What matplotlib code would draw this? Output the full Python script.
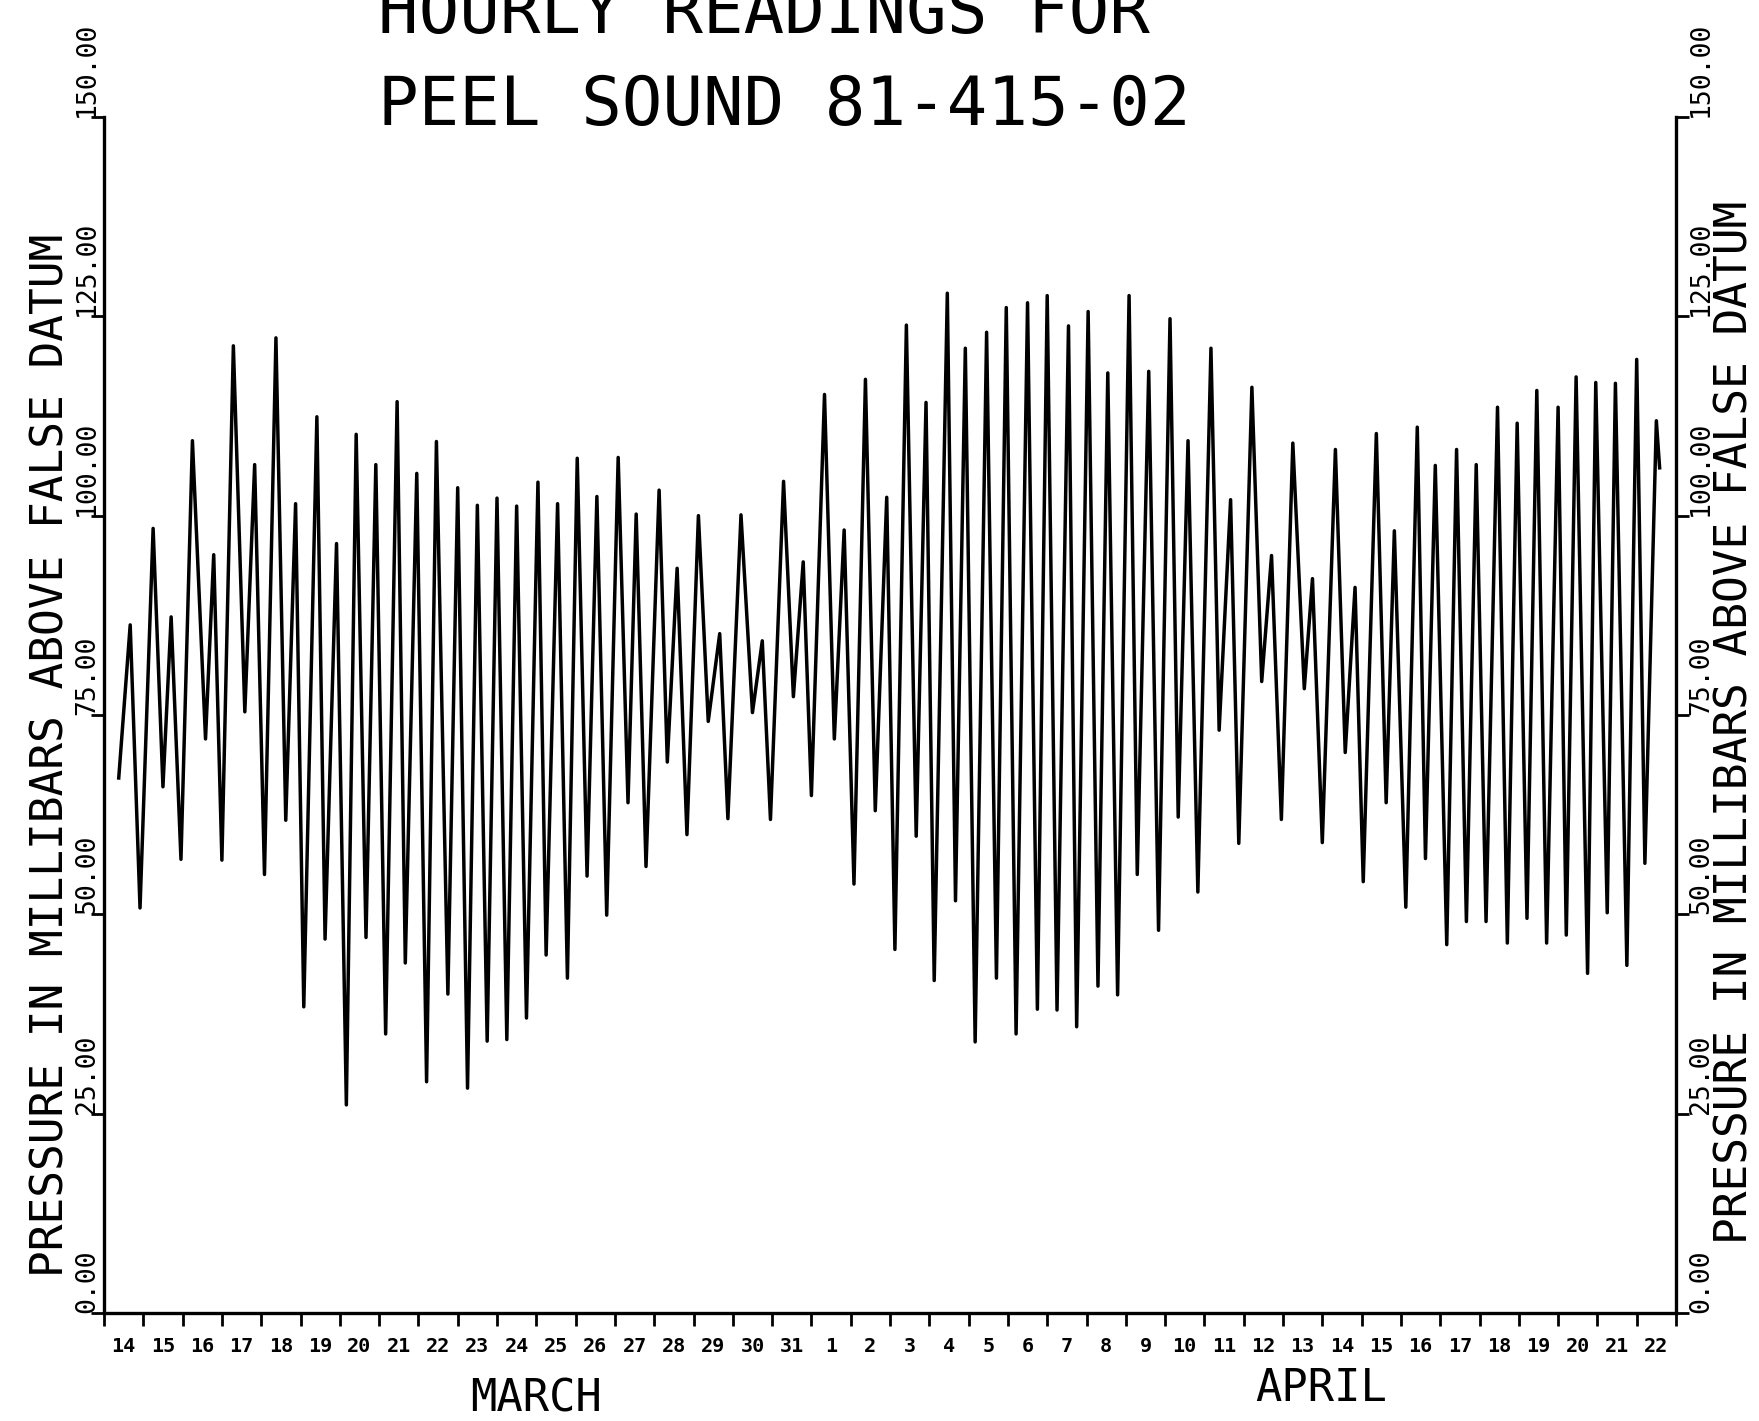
import matplotlib
matplotlib.use("Agg")
import matplotlib.pyplot as plt
from matplotlib.transforms import blended_transform_factory

# Hourly pressure record, Peel Sound 81-415-02 (turning points of the tide),
# time in hours from 14 March 00:00, pressure in mbar above false datum.
hours = [9, 16, 22, 30, 36, 41, 47, 54, 62, 67, 72, 79, 86, 92, 98, 105, 111, 117, 122, 130, 135,
         142, 148, 154, 160, 166, 172, 179, 184, 191, 197, 203, 210, 216, 222, 228, 234, 240, 246,
         252, 258, 265, 270, 277,
         283, 289, 295, 301, 307, 314, 320, 325, 331, 339, 344, 350, 356, 363, 369, 376, 381, 389,
         396, 402, 407, 415,
         421, 427, 432, 440, 446, 452, 458, 465, 471, 478, 483, 490, 496, 502, 507, 515, 520, 526,
         532, 539, 545, 551,
         557, 564, 570, 576, 582, 589, 594, 601, 607, 613, 619, 626, 631, 638, 644, 651, 656, 662,
         668, 676, 681, 688,
         693, 701, 707, 713, 719, 726, 733, 738, 744, 752, 758, 764, 769, 777, 783, 788, 795, 802,
         807, 813, 820, 826,
         832, 838, 844, 851, 857, 863, 869, 875, 881, 888, 893, 899, 906, 911, 918, 923, 930, 936,
         941, 948, 950]

pressure = [67.1, 86.3, 50.8, 98.4, 66.0, 87.3, 56.9, 109.4, 72.0, 95.1, 56.8, 121.3, 75.4, 106.4,
            55.0, 122.3, 61.8, 101.5, 38.4, 112.4, 46.9,
            96.5, 26.1, 110.2, 47.1, 106.4, 35.0, 114.3, 43.9, 105.3, 29.0, 109.3, 40.0, 103.5, 28.2,
            101.3, 34.1, 102.2, 34.3, 101.2, 37.0, 104.2, 44.9, 101.5,
            42.0, 107.2, 54.8, 102.4, 49.9, 107.3, 64.0, 100.2, 56.0, 103.2, 69.1, 93.4, 60.0, 100.0,
            74.2, 85.2, 62.0, 100.1, 75.3, 84.3, 61.9, 104.3,
            77.3, 94.2, 64.9, 115.2, 72.0, 98.2, 53.8, 117.1, 63.0, 102.3, 45.6, 123.9, 59.8, 114.2,
            41.7, 127.9, 51.7, 121.0, 34.0, 123.0, 42.0, 126.1,
            35.0, 126.7, 38.1, 127.6, 38.0, 123.8, 35.9, 125.6, 41.0, 117.9, 39.9, 127.6, 55.0, 118.1,
            48.0, 124.7, 62.2, 109.4, 52.8, 121.0, 73.1, 102.0,
            58.9, 116.1, 79.2, 95.0, 61.9, 109.1, 78.3, 92.1, 59.0, 108.3, 70.3, 91.0, 54.1, 110.3,
            64.0, 98.1, 50.9, 111.1, 57.0, 106.3, 46.2, 108.3,
            49.1, 106.4, 49.1, 113.6, 46.4, 111.6, 49.5, 115.7, 46.4, 113.6, 47.4, 117.4, 42.6, 116.7,
            50.2, 116.6, 43.6, 119.6, 56.4, 111.9, 106.0]

day_labels = [str(d) for d in range(14, 32)] + [str(d) for d in range(1, 23)]
y_ticks = [0, 25, 50, 75, 100, 125, 150]
y_tick_labels = ["0.00", "25.00", "50.00", "75.00", "100.00", "125.00", "150.00"]
title_lines = ["HOURLY READINGS FOR", "PEEL SOUND 81-415-02"]
y_title = "PRESSURE IN MILLIBARS ABOVE FALSE DATUM"
month_labels = ["MARCH", "APRIL"]

MONO = "DejaVu Sans Mono"
W, H = 1759, 1421
fig = plt.figure(figsize=(W / 100, H / 100), dpi=100)
fig.patch.set_facecolor("white")

# plot frame in pixels
L, R, T, B = 104, 1676, 117, 1313
ax = fig.add_axes([L / W, 1 - B / H, (R - L) / W, (B - T) / H])
ax.plot(hours, pressure, color="black", lw=2.5, solid_joinstyle="round", clip_on=False)

n_days = len(day_labels)
ax.set_xlim(0, 24 * n_days)
ax.set_ylim(0, 150)

ax.spines["top"].set_visible(False)
for s in ("left", "right", "bottom"):
    ax.spines[s].set_linewidth(2.4)

# day boundaries as tick marks, day names centred between them
ax.set_xticks([24 * i for i in range(n_days + 1)])
ax.set_xticklabels([])
ax.set_xticks([24 * i + 12 for i in range(n_days)], minor=True)
ax.set_xticklabels(day_labels, minor=True, fontfamily=MONO, fontweight="bold", fontsize=14.5)
ax.tick_params(axis="x", which="major", direction="out", length=9.5, width=2.0)
ax.tick_params(axis="x", which="minor", length=0, pad=17)

ax.set_yticks(y_ticks)
ax.set_yticklabels([])
ax.tick_params(axis="y", which="major", direction="out", length=9.5, width=2.0,
               left=True, right=True, labelleft=False, labelright=False)

# rotated value labels on both sides, each starting at its tick
tf = blended_transform_factory(fig.transFigure, ax.transData)
for v, s in zip(y_ticks, y_tick_labels):
    ax.text(94 / W, v, s, transform=tf, rotation=90, rotation_mode="anchor",
            ha="left", va="baseline", fontfamily=MONO, fontsize=19)
    ax.text(1708 / W, v, s, transform=tf, rotation=90, rotation_mode="anchor",
            ha="left", va="baseline", fontfamily=MONO, fontsize=19)

fig.text(64 / W, 1 - 755 / H, y_title, rotation=90, rotation_mode="anchor",
         ha="center", va="baseline", fontfamily=MONO, fontsize=32)
fig.text(1747 / W, 1 - 722 / H, y_title, rotation=90, rotation_mode="anchor",
         ha="center", va="baseline", fontfamily=MONO, fontsize=32)

# title
fig.text(378 / W, 1 - 33 / H, title_lines[0], ha="left", va="baseline",
         fontfamily=MONO, fontsize=48.5)
fig.text(378 / W, 1 - 125 / H, title_lines[1], ha="left", va="baseline",
         fontfamily=MONO, fontsize=48.5)

# month names
fig.text(536 / W, 1 - 1412 / H, month_labels[0], ha="center", va="baseline",
         fontfamily=MONO, fontsize=31.5)
fig.text(1321 / W, 1 - 1401 / H, month_labels[1], ha="center", va="baseline",
         fontfamily=MONO, fontsize=31.5)

fig.savefig("out.png", dpi=100, facecolor="white")
